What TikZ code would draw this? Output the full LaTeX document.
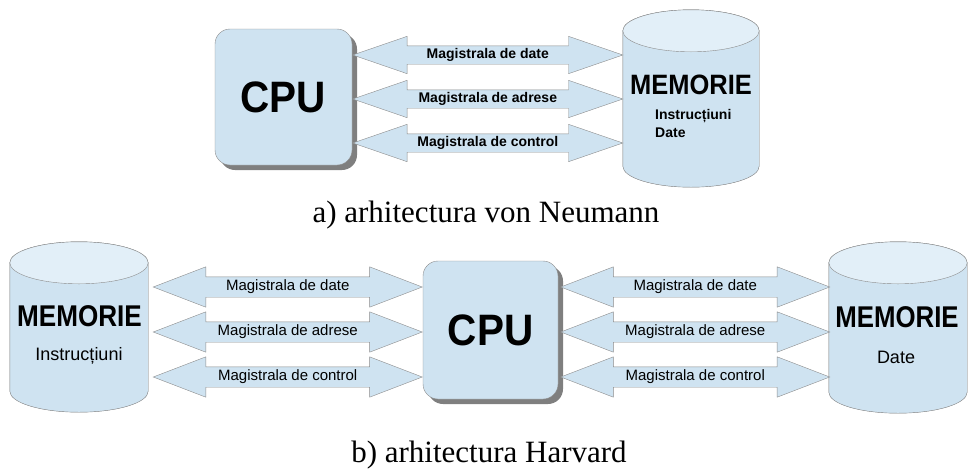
\documentclass[tikz,border=0pt]{standalone}
\usepackage{fontspec}
\setmainfont{Liberation Serif}
\setsansfont{Liberation Sans}
\usetikzlibrary{calc}
\usetikzlibrary{positioning}
\usetikzlibrary{shapes.arrows,shadows}

\definecolor{boxblue}{HTML}{CFE3F1}
\definecolor{topblue}{HTML}{E2EFF8}
\definecolor{edgegray}{HTML}{8C8C8C}
\definecolor{shadegray}{HTML}{7F7F7F}

% outline of a standing drum, fitted to the node #2
\newcommand\drumpath[2]{%
  \path[#1] let \p1=(#2.north west), \p2=(#2.south east), \p3=(#2.north),
      \n1={(\x2-\x1)/2} in
    (\x1,\y1-21pt) -- (\x1,\y2+21pt)
    arc[start angle=180,end angle=360,x radius=\n1,y radius=21pt]
    -- (\x2,\y1-21pt)
    arc[start angle=0,end angle=180,x radius=\n1,y radius=21pt] -- cycle;
}
% shadow, body and lid of a memory drum
\newcommand\drum[1]{%
  \begin{scope}[shift={(5pt,-5pt)}]
    \drumpath{fill=shadegray}{#1}
  \end{scope}
  \drumpath{fill=boxblue,draw=edgegray}{#1}
  \path[fill=topblue,draw=edgegray] let \p1=(#1.north west), \p2=(#1.south east),
      \p3=(#1.north), \n1={(\x2-\x1)/2} in
    (\x3,\y1-21pt) ellipse [x radius=\n1,y radius=21pt];
}

\tikzset{
  boxshadow/.style={drop shadow={shadow xshift=5pt,shadow yshift=-5pt,fill=shadegray,opacity=1}},
  cpubox/.style={draw=edgegray,fill=boxblue,rounded corners=15pt,boxshadow,
    font=\sffamily\bfseries\fontsize{44}{44}\selectfont},
  memspace/.style={rectangle,inner sep=0pt},
  memtitle/.style={inner sep=0pt,font=\sffamily\bfseries\fontsize{28}{28}\selectfont},
  memtitleb/.style={inner sep=0pt,font=\sffamily\bfseries\fontsize{30}{30}\selectfont},
  memtext/.style={inner sep=0pt,font=\sffamily\bfseries\fontsize{14}{14}\selectfont},
  memtextb/.style={inner sep=0pt,font=\sffamily\fontsize{18}{18}\selectfont},
  busA/.style={double arrow,draw=edgegray,fill=boxblue,double arrow head extend=9.5pt,
    double arrow tip angle=38,minimum width=37pt,minimum height=270pt,
    inner xsep=0pt,inner ysep=3pt,text height=9pt,text depth=3pt,
    font=\sffamily\bfseries\fontsize{14}{14}\selectfont},
  busB/.style={double arrow,draw=edgegray,fill=boxblue,double arrow head extend=10pt,
    double arrow tip angle=42,minimum width=40pt,minimum height=269pt,
    inner xsep=0pt,inner ysep=3pt,text height=10pt,text depth=4pt,
    font=\sffamily\fontsize{15}{15}\selectfont},
  caption/.style={anchor=base,inner sep=0pt,font=\rmfamily\fontsize{31}{31}\selectfont}
}

\begin{document}
\begin{tikzpicture}[x=1pt,y=-1pt]
  \useasboundingbox (0,0) rectangle (971,469);

  % a) von Neumann: one memory, shared buses
  \node[cpubox,minimum width=137pt,minimum height=136pt] (cpuA) at (283.5,97) {\scalebox{.92}[1]{CPU}};
  \node[memspace,minimum width=136pt,minimum height=177pt] (memA) at (691,98.5) {};
  \drum{memA}
  \node[memtitle] (memAname) at ($(memA.center)+(0,-13.5)$) {\scalebox{.91}[1]{MEMORIE}};
  \node[memtext,anchor=west] (memAinstr) at ($(memA.center)+(-36,17.5)$) {Instrucțiuni};
  \node[memtext,anchor=west] (memAdate) at ($(memA.center)+(-36,34.5)$) {Date};

  \node[busA,right=0pt of cpuA,yshift=42pt] (dateA) {Magistrala de date};
  \node[busA,right=0pt of cpuA,yshift=-2pt] (adrA) {Magistrala de adrese};
  \node[busA,right=0pt of cpuA,yshift=-46pt] (ctrlA) {Magistrala de control};

  \node[caption] (capA) at (486,222) {a) arhitectura von Neumann};

  % b) Harvard: separate instruction and data memories
  \node[cpubox,minimum width=135pt,minimum height=138pt] (cpuB) at (490.5,330) {\scalebox{.92}[1]{CPU}};
  \node[memspace,minimum width=138pt,minimum height=170pt] (memB) at (79,327) {};
  \node[memspace,minimum width=138pt,minimum height=171pt] (memC) at (898,327.5) {};
  \drum{memB}
  \drum{memC}
  \node[memtitleb] (memBname) at ($(memB.center)+(0.5,-11)$) {\scalebox{.87}[1]{MEMORIE}};
  \node[memtextb] (memBinstr) at ($(memB.center)+(0,29)$) {Instrucțiuni};
  \node[memtitleb] (memCname) at ($(memC.center)+(-1,-10.5)$) {\scalebox{.86}[1]{MEMORIE}};
  \node[memtextb] (memCdate) at ($(memC.center)+(-2,29.5)$) {Date};

  \node[busB,left=0pt of cpuB,yshift=43pt] (dateB) {Magistrala de date};
  \node[busB,left=0pt of cpuB,yshift=-2pt] (adrB) {Magistrala de adrese};
  \node[busB,left=0pt of cpuB,yshift=-47pt] (ctrlB) {Magistrala de control};

  \node[busB,right=2pt of cpuB,yshift=43pt] (dateC) {Magistrala de date};
  \node[busB,right=2pt of cpuB,yshift=-2pt] (adrC) {Magistrala de adrese};
  \node[busB,right=2pt of cpuB,yshift=-47pt] (ctrlC) {Magistrala de control};

  \node[caption] (capB) at (489,462) {b) arhitectura Harvard};
\end{tikzpicture}
\end{document}
